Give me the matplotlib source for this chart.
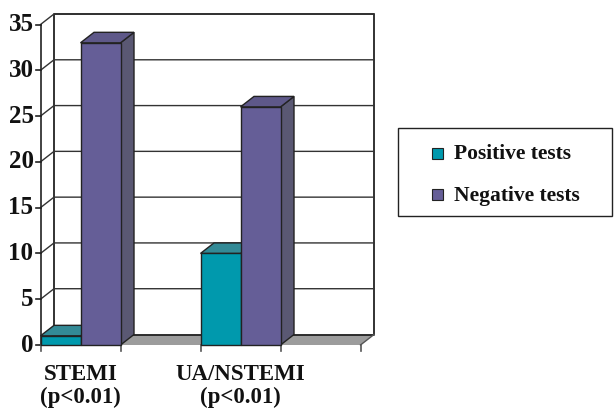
import matplotlib
matplotlib.use("Agg")
import matplotlib.pyplot as plt
from matplotlib.patches import Polygon, Rectangle

categories = ["STEMI", "UA/NSTEMI"]
subtitles = ["(p<0.01)", "(p<0.01)"]
series_names = ["Positive tests", "Negative tests"]
positive = [1, 10]
negative = [33, 26]
y_ticks = [0, 5, 10, 15, 20, 25, 30, 35]

front_colors = ["#0099ad", "#655e97"]
top_colors = ["#338a96", "#5e5889"]
side_colors = ["#2c7a85", "#5a5873"]
floor_color = "#9c9c9c"
line_color = "#222222"
grid_color = "#333333"

W, H, DPI = 614, 412, 100
fig = plt.figure(figsize=(W / DPI, H / DPI), dpi=DPI)
ax = fig.add_axes([0, 0, 1, 1])
ax.set_axis_off()

# axes geometry: one category spans 160 px, one value unit spans ~9.16 px
px_u, px_v = 160.0, 9.157
x0_px, y0_px = 40.5, 67.0  # origin, measured from the bottom-left corner
ax.set_xlim(-x0_px / px_u, (W - x0_px) / px_u)
ax.set_ylim(-y0_px / px_v, (H - y0_px) / px_v)

DX = 13.5 / px_u     # depth offset (horizontal)
DY = 10.5 / px_v     # depth offset (vertical)
ymax = 35
n_cat = len(categories)
xmax = n_cat * 1.0
bar_w = 0.25
serif = "Liberation Serif"

# floor
ax.add_patch(Polygon([(0, 0), (xmax, 0), (xmax + DX, DY), (DX, DY)],
                     closed=True, facecolor=floor_color, edgecolor="none", zorder=1))
# back wall outline
ax.plot([DX, xmax + DX, xmax + DX, DX, DX],
        [DY, DY, ymax + DY, ymax + DY, DY], color=line_color, lw=1.3, zorder=2)
ax.plot([xmax, xmax + DX], [0, DY], color="#555555", lw=1.0, zorder=2)

# gridlines on back and side walls
for t in y_ticks[1:]:
    ax.plot([0, DX, xmax + DX], [t, t + DY, t + DY], color=grid_color, lw=1.0, zorder=2)
ax.plot([0, DX], [0, DY], color=grid_color, lw=1.0, zorder=2)

# value axis
ax.plot([0, 0], [0, ymax], color=line_color, lw=1.2, zorder=2)
for t in y_ticks:
    ax.plot([-5 / px_u, 0], [t, t], color=line_color, lw=1.2, zorder=2)
    ax.text(-7 / px_u, t, str(t), ha="right", va="center", fontsize=18,
            fontweight="bold", family=serif, color="#111111")

# category axis ticks
for k in range(2 * n_cat + 1):
    ax.plot([k * 0.5, k * 0.5], [0, -5.5 / px_v], color="#555555", lw=1.2, zorder=2)


def bar3d(x, h, s):
    front = Polygon([(x, 0), (x + bar_w, 0), (x + bar_w, h), (x, h)], closed=True,
                    facecolor=front_colors[s], edgecolor=line_color, lw=1.0, zorder=3)
    top = Polygon([(x, h), (x + bar_w, h), (x + bar_w + DX, h + DY), (x + DX, h + DY)],
                  closed=True, facecolor=top_colors[s], edgecolor=line_color, lw=1.0, zorder=3)
    side = Polygon([(x + bar_w, 0), (x + bar_w + DX, DY), (x + bar_w + DX, h + DY),
                    (x + bar_w, h)], closed=True, facecolor=side_colors[s],
                   edgecolor=line_color, lw=1.0, zorder=3)
    for p in (side, top, front):
        ax.add_patch(p)


for i in range(n_cat):
    for s, vals in enumerate([positive, negative]):
        bar3d(i + s * bar_w, vals[i], s)
    ax.text(i + bar_w, -29 / px_v, categories[i], ha="center", va="center",
            fontsize=16.5, fontweight="bold", family=serif, color="#111111")
    ax.text(i + bar_w, -52 / px_v, subtitles[i], ha="center", va="center",
            fontsize=16.5, fontweight="bold", family=serif, color="#111111")


# legend box
def fx(p):
    return p / W


def fy(p):
    return 1 - p / H


fig.patches.append(Rectangle((fx(398), fy(216)), fx(612) - fx(398), fy(128) - fy(216),
                             transform=fig.transFigure, facecolor="white",
                             edgecolor=line_color, lw=1.0))
for k, name in enumerate(series_names):
    yc = 153 + 41.5 * k
    fig.patches.append(Rectangle((fx(432), fy(yc + 5.5)), fx(443) - fx(432), fy(yc - 5.5) - fy(yc + 5.5),
                                 transform=fig.transFigure, facecolor=front_colors[k],
                                 edgecolor=line_color, lw=0.8))
    fig.text(fx(454), fy(yc + 1), name, ha="left", va="center", fontsize=15.5,
             fontweight="bold", family=serif, color="#111111")

fig.savefig("out.png", dpi=DPI)
